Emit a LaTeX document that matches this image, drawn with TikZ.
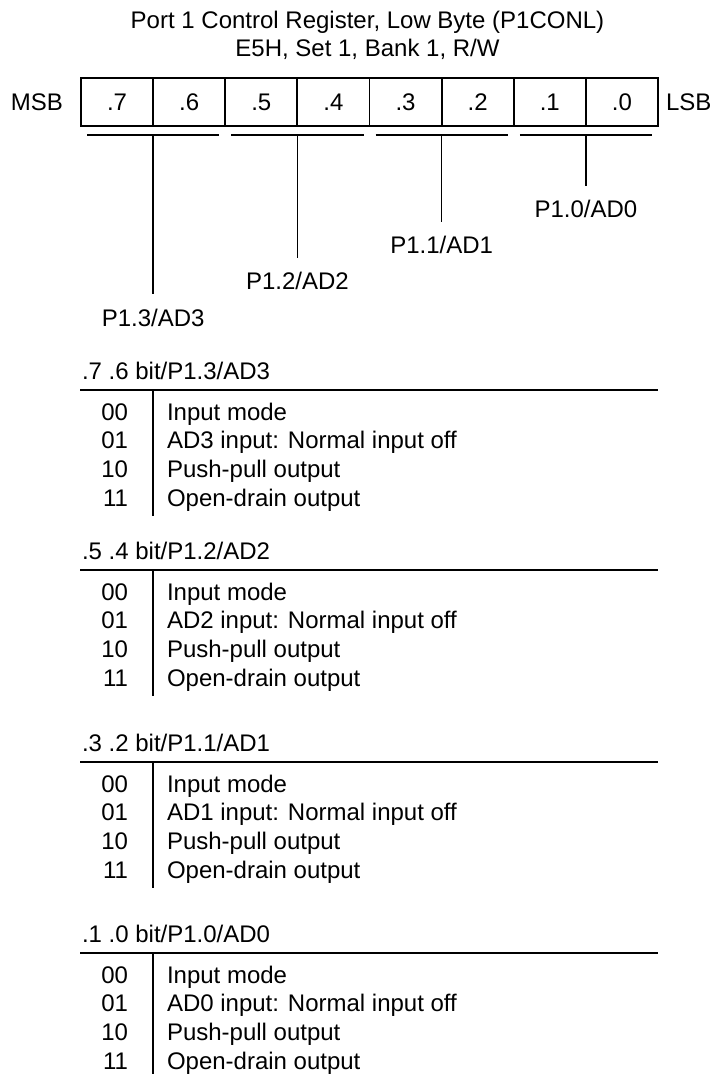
\documentclass[tikz,border=0pt]{standalone}
\usepackage{fontspec}
\setmainfont{Liberation Sans}
\newcommand{\mysect}[4]{%
  \node[txt, anchor=base west] (h#4) at (82,#1-11) {#2};
  \coordinate (rl#4) at (80,#1);
  \coordinate (rr#4) at (658,#1);
  \draw[rulel] (rl#4) -- (rr#4);
  \coordinate (st#4) at (153,#1);
  \coordinate (sb#4) at (153,#1+126);
  \draw[rulel] (st#4) -- (sb#4);
  \node[txt, anchor=base east] (n#4a) at (128,#1+30) {00};
  \node[txt, anchor=base west] (d#4a) at (167,#1+30) {Input mode};
  \node[txt, anchor=base east] (n#4b) at (128,#1+58.7) {01};
  \node[txt, anchor=base west] (d#4b) at (167,#1+58.7) {#3 input: Normal input off};
  \node[txt, anchor=base east] (n#4c) at (128,#1+87.4) {10};
  \node[txt, anchor=base west] (d#4c) at (167,#1+87.4) {Push-pull output};
  \node[txt, anchor=base east] (n#4d) at (128,#1+116.1) {11};
  \node[txt, anchor=base west] (d#4d) at (167,#1+116.1) {Open-drain output};
}
\begin{document}
\begin{tikzpicture}[x=0.75pt,y=-0.75pt,
  every node/.style={inner sep=0pt, outer sep=0pt, font=\fontsize{18}{21.6}\selectfont},
  cell/.style={draw, line width=1.4pt, minimum width=54.09pt, minimum height=36pt},
  txt/.style={anchor=base},
  rulel/.style={line width=1.4pt},
  thinl/.style={line width=1pt}]
\useasboundingbox (0,0) rectangle (723,1074);
% title
\node[txt] (t1) at (367.5,29) {Port 1 Control Register, Low Byte (P1CONL)};
\node[txt] (t2) at (367.5,57) {E5H, Set 1, Bank 1, R/W};
% register
\node[cell] (c7) at (117.06,102) {.7};
\node[cell] (c6) at (189.19,102) {.6};
\node[cell] (c5) at (261.31,102) {.5};
\node[cell] (c4) at (333.44,102) {.4};
\node[cell] (c3) at (405.56,102) {.3};
\node[cell] (c2) at (477.69,102) {.2};
\node[cell] (c1) at (549.81,102) {.1};
\node[cell] (c0) at (621.94,102) {.0};
\node[txt, anchor=base east] (msb) at (63,110) {MSB};
\node[txt, anchor=base west] (lsb) at (666,110) {LSB};
% group underlines
\draw[rulel] ([xshift=4.5pt,yshift=-6.75pt]c7.south west) -- ([xshift=-4.5pt,yshift=-6.75pt]c6.south east);
\draw[rulel] ([xshift=4.5pt,yshift=-6.75pt]c5.south west) -- ([xshift=-4.5pt,yshift=-6.75pt]c4.south east);
\draw[rulel] ([xshift=4.5pt,yshift=-6.75pt]c3.south west) -- ([xshift=-4.5pt,yshift=-6.75pt]c2.south east);
\draw[rulel] ([xshift=4.5pt,yshift=-6.75pt]c1.south west) -- ([xshift=-4.5pt,yshift=-6.75pt]c0.south east);
% leader lines and labels
\coordinate (e3) at (c7.south east |- 0,294);
\coordinate (e2) at (c5.south east |- 0,258);
\coordinate (e1) at (c3.south east |- 0,222);
\coordinate (e0) at (c1.south east |- 0,186);
\draw[thinl] ([yshift=-6.75pt]c7.south east) -- (e3);
\draw[thinl] ([yshift=-6.75pt]c5.south east) -- (e2);
\draw[thinl] ([yshift=-6.75pt]c3.south east) -- (e1);
\draw[thinl] ([yshift=-6.75pt]c1.south east) -- (e0);
\node[txt] (l3) at ([yshift=-24pt]e3) {P1.3/AD3};
\node[txt] (l2) at ([yshift=-23.25pt]e2) {P1.2/AD2};
\node[txt] (l1) at ([yshift=-23.25pt]e1) {P1.1/AD1};
\node[txt] (l0) at ([yshift=-23.25pt]e0) {P1.0/AD0};
% sections
\mysect{390}{.7 .6 bit/P1.3/AD3}{AD3}{s1}
\mysect{570}{.5 .4 bit/P1.2/AD2}{AD2}{s2}
\mysect{762}{.3 .2 bit/P1.1/AD1}{AD1}{s3}
\mysect{953}{.1 .0 bit/P1.0/AD0}{AD0}{s4}
\end{tikzpicture}
\end{document}
